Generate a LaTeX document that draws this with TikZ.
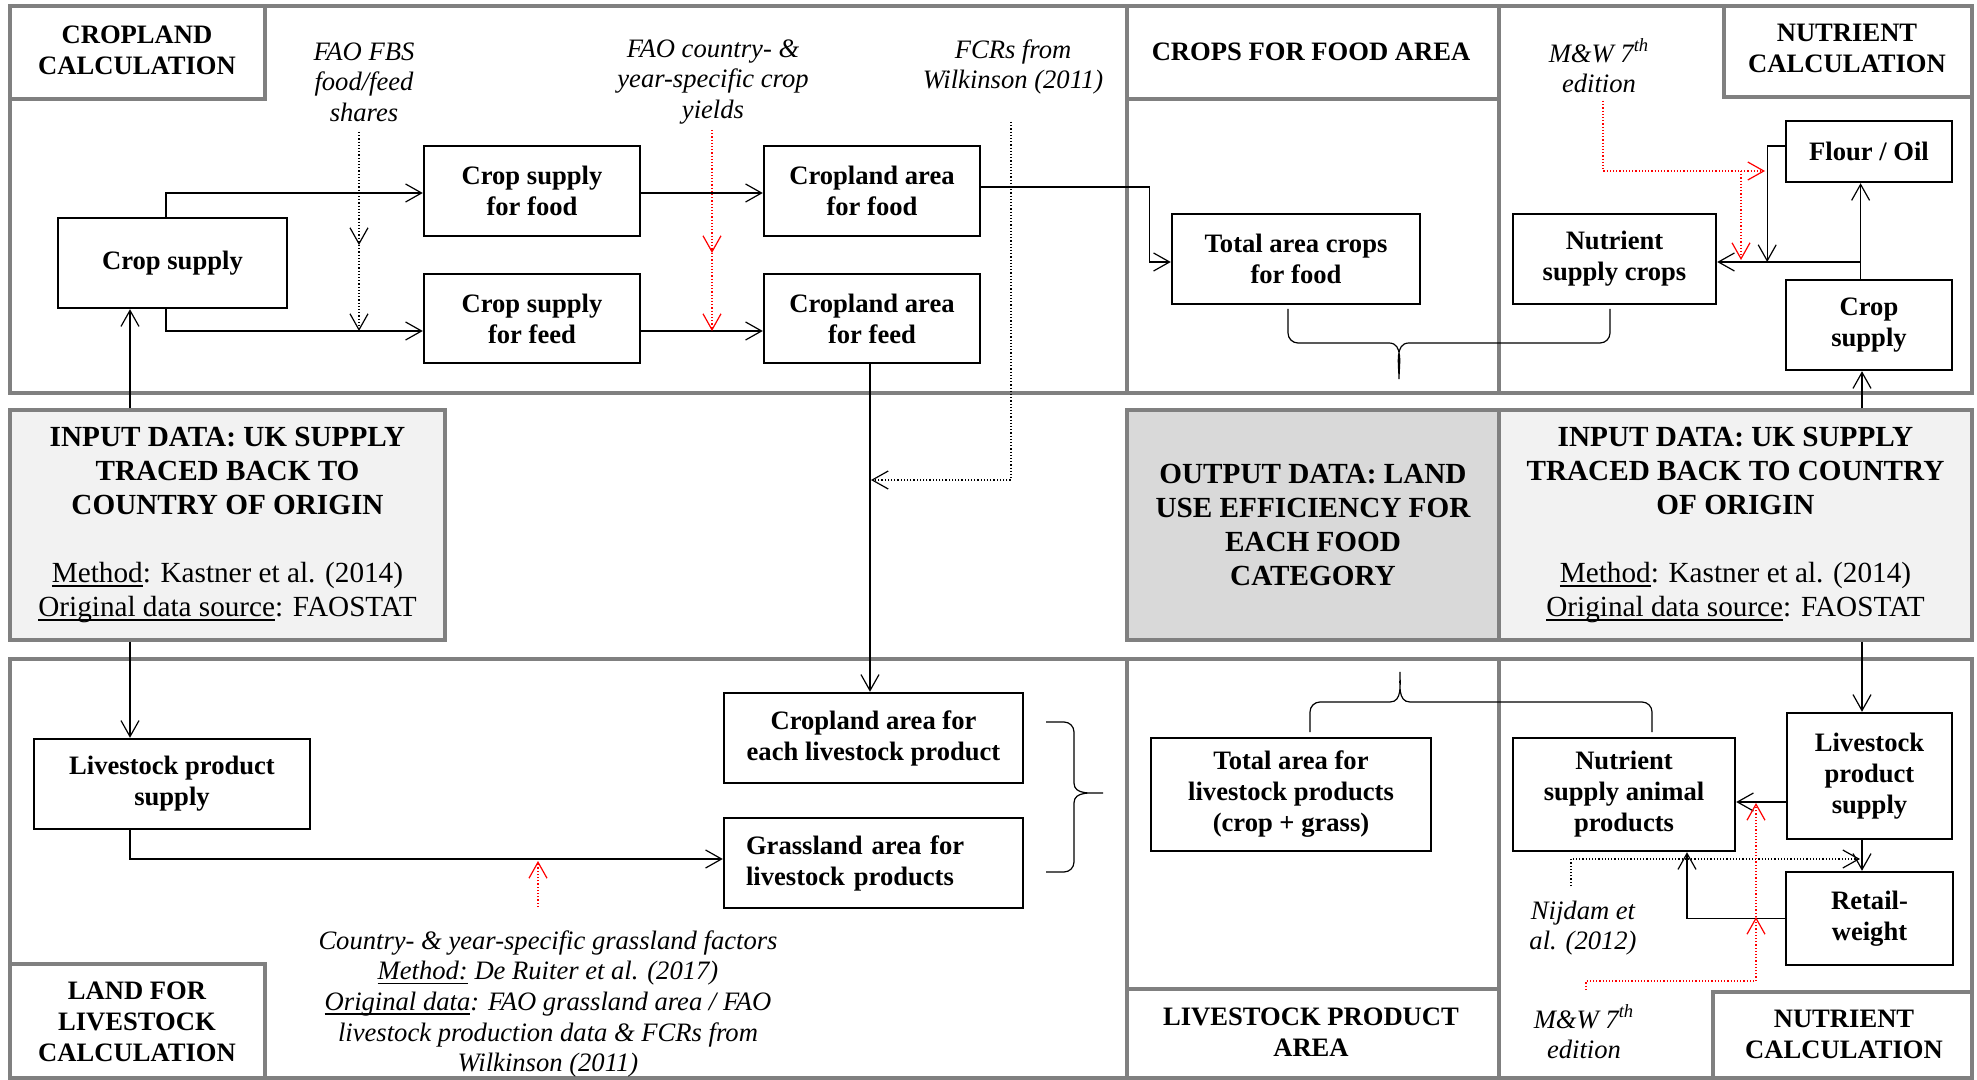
\documentclass[tikz,border=0pt]{standalone}
\usepackage{fontspec}
\setmainfont{Liberation Serif}
\usetikzlibrary{arrows.meta,calc}
\definecolor{panelgray}{HTML}{808080}
\definecolor{inputfill}{HTML}{F2F2F2}
\definecolor{outputfill}{HTML}{D9D9D9}
\newcommand\ulx[1]{\begingroup\setbox0\hbox{#1}\rlap{\rule[-2.1pt]{\wd0}{0.8pt}}\box0\endgroup}
\tikzset{
 panel/.style={draw=panelgray, line width=1.6pt},
 panelbox/.style={draw=panelgray, line width=1.6pt, align=center, inner sep=0pt,
   font=\fontsize{14.6}{17}\selectfont\bfseries},
 box/.style={draw=black, line width=1.2pt, fill=white, align=center, inner sep=0pt,
   font=\fontsize{13.3}{15.5}\selectfont\bfseries},
 hdr/.style={align=center, inner sep=0pt, font=\fontsize{13.3}{15.5}\selectfont\bfseries},
 note/.style={align=center, inner sep=0pt, font=\fontsize{13.3}{15.3}\selectfont\itshape},
 arr/.style={line width=0.6pt, -{Straight Barb[length=8pt,width=9pt]}},
 darr/.style={arr, densely dotted},
 rarr/.style={arr, densely dotted, red},
 brace/.style={line width=0.6pt},
}
\begin{document}
\begin{tikzpicture}[x=0.5pt,y=-0.5pt]
\useasboundingbox (0,0) rectangle (1977,1080);
% ---------- panels ----------
\draw[panel] (10,6) rectangle (1127,393);
\draw[panel] (1127,6) rectangle (1499,393);
\draw[panel] (1499,6) rectangle (1972,393);
\draw[panel] (10,6) rectangle (265,99);
\draw[panel] (1127,99) -- (1499,99);
\draw[panel] (1724,6) rectangle (1972,97);
\draw[panel] (10,659) rectangle (1127,1078);
\draw[panel] (1127,659) rectangle (1499,1078);
\draw[panel] (1499,659) rectangle (1972,1078);
\draw[panel] (10,964) rectangle (265,1078);
\draw[panel] (1127,989) -- (1499,989);
\draw[panel] (1713,992) rectangle (1972,1078);
% ---------- middle data boxes ----------
\node[panelbox, fill=inputfill, minimum width=217.5pt, minimum height=115pt] (inL) at (227.5,525)
 {INPUT DATA: UK SUPPLY\\TRACED BACK TO\\COUNTRY OF ORIGIN\\[17pt]
  \textmd{\ulx{Method}: Kastner et al. (2014)}\\
  \textmd{\ulx{Original data source}: FAOSTAT}};
\node[panelbox, fill=outputfill, minimum width=186pt, minimum height=115pt] (outD) at (1313,525)
 {OUTPUT DATA: LAND\\USE EFFICIENCY FOR\\EACH FOOD\\CATEGORY};
\node[panelbox, fill=inputfill, minimum width=236.5pt, minimum height=115pt] (inR) at (1735.5,525)
 {INPUT DATA: UK SUPPLY\\TRACED BACK TO COUNTRY\\OF ORIGIN\\[17pt]
  \textmd{\ulx{Method}: Kastner et al. (2014)}\\
  \textmd{\ulx{Original data source}: FAOSTAT}};
% ---------- headers and notes ----------
\node[hdr] (hcrop) at (137,50) {CROPLAND\\CALCULATION};
\node[note] (nfbs) at (364,82) {FAO FBS\\food/feed\\shares};
\node[note] (nyld) at (713,82) {FAO country- \&\\year-specific crop\\yields};
\node[note] (nfcr) at (1013,67) {FCRs from\\Wilkinson (2011)};
\node[hdr] (hcfa) at (1311,52) {CROPS FOR FOOD AREA};
\node[note] (nmw1) at (1599,66) {M\&W 7\textsuperscript{th}\\edition};
\node[hdr] (hnut1) at (1847,48) {NUTRIENT\\CALCULATION};
\node[note] (ngrass) at (548,1004) {Country- \& year-specific grassland factors\\
 \ulx{Method:} De Ruiter et al. (2017)\\
 \ulx{Original data}: FAO grassland area / FAO\\
 livestock production data \& FCRs from\\Wilkinson (2011)};
\node[hdr] (hland) at (137,1022) {LAND FOR\\LIVESTOCK\\CALCULATION};
\node[hdr] (hlpa) at (1311,1032) {LIVESTOCK PRODUCT\\AREA};
\node[note] (nmw2) at (1584,1032) {M\&W 7\textsuperscript{th}\\edition};
\node[hdr] (hnut2) at (1844,1034) {NUTRIENT\\CALCULATION};
\node[note] (nnij) at (1583,928) {Nijdam et\\al. (2012)};
% ---------- boxes ----------
\node[box, minimum width=114.5pt, minimum height=45pt] (cs) at (172.5,263) {Crop supply};
\node[box, minimum width=108pt, minimum height=45pt] (csfood) at (532,191) {Crop supply\\for food};
\node[box, minimum width=108pt, minimum height=44.5pt] (csfeed) at (532,318.5) {Crop supply\\for feed};
\node[box, minimum width=108pt, minimum height=45pt] (cafood) at (872,191) {Cropland area\\for food};
\node[box, minimum width=108pt, minimum height=44.5pt] (cafeed) at (872,318.5) {Cropland area\\for feed};
\node[box, minimum width=124pt, minimum height=45pt] (tacf) at (1296,259) {Total area crops\\for food};
\node[box, minimum width=101.5pt, minimum height=45pt] (nsc) at (1614.5,259) {Nutrient\\supply crops};
\node[box, minimum width=83pt, minimum height=30.5pt] (flour) at (1869,151.5) {Flour / Oil};
\node[box, minimum width=83pt, minimum height=45pt] (cs2) at (1869,325) {Crop\\supply};
\node[box, minimum width=138pt, minimum height=45pt] (lps) at (172,784) {Livestock product\\supply};
\node[box, minimum width=149.5pt, minimum height=45pt] (caelp) at (873.5,738) {Cropland area for\\each livestock product};
\node[box, text width=127.5pt, inner xsep=11pt, align=left, minimum height=45pt] (galp) at (873.5,863) {Grassland area for\\livestock products};
\node[box, minimum width=140pt, minimum height=56.5pt] (talp) at (1291,794.5) {Total area for\\livestock products\\(crop + grass)};
\node[box, minimum width=111pt, minimum height=56.5pt] (nsap) at (1624,794.5) {Nutrient\\supply animal\\products};
\node[box, minimum width=82.5pt, minimum height=63pt] (lps2) at (1869.5,776) {Livestock\\product\\supply};
\node[box, minimum width=83.5pt, minimum height=46.5pt] (rw) at (1869.5,918.5) {Retail-\\weight};
% ---------- connectors: cropland ----------
\draw[arr] ([xshift=-3.25pt]cs.north) |- ([yshift=-1pt]csfood.west);
\draw[arr] ([xshift=-3.25pt]cs.south) |- ([yshift=-6.25pt]csfeed.west);
\draw[arr] ([yshift=-1pt]csfood.east) -- ([yshift=-1pt]cafood.west);
\draw[arr] ([yshift=-6.25pt]csfeed.east) -- ([yshift=-6.25pt]cafeed.west);
\draw[arr] ([yshift=2pt]cafood.east) -| ([xshift=-10.5pt,yshift=-1.5pt]tacf.west) -- ([yshift=-1.5pt]tacf.west);
\draw[arr] ([xshift=-1pt]cafeed.south) -- ([xshift=-1pt]cafeed.south |- caelp.north);
\draw[arr] ([xshift=-21.25pt]cs.south |- inL.north) -- ([xshift=-21.25pt]cs.south);
% dotted inputs
\coordinate (fbs1) at (359,132); \coordinate (fbs2) at (359,245); \coordinate (fbs3) at (359,331);
\draw[darr] (fbs1) -- (fbs2);
\draw[darr] (fbs2) -- (fbs3);
\coordinate (y1) at (712,130); \coordinate (y2) at (712,253); \coordinate (y3) at (712,331);
\draw[rarr] (y1) -- (y2);
\draw[rarr] (y2) -- (y3);
\coordinate (f1) at (1011,122); \coordinate (f2) at (871,480);
\draw[darr] (f1) |- (f2);
% ---------- nutrient crops ----------
\draw[arr] ([xshift=-4.2pt]cs2.north) -- ([xshift=-4.2pt]flour.south);
\draw[arr] ([xshift=-4.2pt]cs2.north) |- ([yshift=-1.5pt]nsc.east);
\draw[arr] ([yshift=2.75pt]flour.west) -| ([xshift=25pt,yshift=-1.5pt]nsc.east);
\draw[arr] ([xshift=-3.5pt]cs2.south |- inR.north) -- ([xshift=-3.5pt]cs2.south);
\coordinate (m1) at (1603,101); \coordinate (m2) at (1765,171);
\coordinate (m3) at (1741,171); \coordinate (m4) at (1741,260);
\draw[rarr] (m1) |- (m2);
\draw[rarr] (m3) -- (m4);
% ---------- livestock ----------
\draw[arr] ([xshift=-21pt]lps.north |- inL.south) -- ([xshift=-21pt]lps.north);
\draw[arr] ([xshift=-21pt]lps.south) |- ([yshift=2pt]galp.west);
\coordinate (g1) at (538,907); \coordinate (g2) at (538,861);
\draw[rarr] (g1) -- (g2);
% ---------- nutrient animal ----------
\draw[arr] ([xshift=-3.75pt]lps2.north |- inR.south) -- ([xshift=-3.75pt]lps2.north);
\draw[arr] ([yshift=-13pt]lps2.west) -- ([yshift=-13pt]lps2.west -| nsap.east);
\draw[arr] ([xshift=-3.75pt]lps2.south) -- ([xshift=-3.75pt]lps2.south |- rw.north);
\draw[arr] (rw.west) -| ([xshift=31.5pt]nsap.south);
\coordinate (n1) at (1571,886); \coordinate (n2) at (1860,859);
\draw[darr] (n1) |- (n2);
\coordinate (r1) at (1586,990); \coordinate (r1b) at (1586,981);
\coordinate (r2) at (1756,917); \coordinate (r3) at (1756,803);
\draw[rarr] (r1) -- (r1b) -| (r2);
\draw[rarr] (r2) -- (r3);
% ---------- braces ----------
\draw[brace] (1288,309) -- (1288,333) to[out=-90,in=180] (1298,343) -- (1389,343)
  to[out=0,in=90] (1399,379) to[out=90,in=180] (1409,343) -- (1600,343)
  to[out=0,in=-90] (1610,333) -- (1610,309);
\draw[brace] (1310,732) -- (1310,712) to[out=90,in=180] (1320,702) -- (1390,702)
  to[out=0,in=-90] (1400,672) to[out=-90,in=180] (1410,702) -- (1642,702)
  to[out=0,in=90] (1652,712) -- (1652,732);
\draw[brace] (1046,722) -- (1064,722) to[out=0,in=90] (1074,732) -- (1074,783)
  to[out=-90,in=180] (1103,793) to[out=180,in=90] (1074,803) -- (1074,862)
  to[out=-90,in=0] (1064,872) -- (1046,872);
\end{tikzpicture}
\end{document}
